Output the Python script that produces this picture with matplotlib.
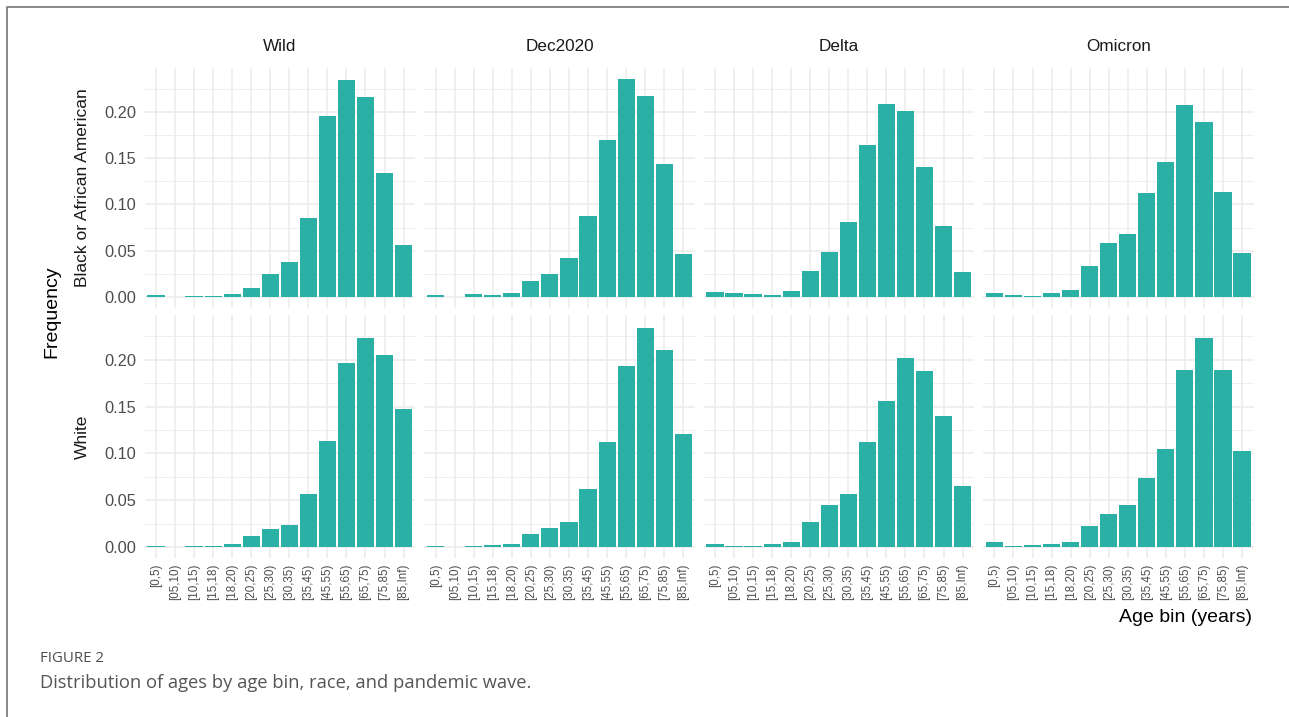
import matplotlib
matplotlib.use("Agg")
import matplotlib.pyplot as plt
from matplotlib.lines import Line2D
import numpy as np

# Age bins, facets and observed frequencies
age_bins = ["[0,5)", "[05,10)", "[10,15)", "[15,18)", "[18,20)", "[20,25)", "[25,30)",
            "[30,35)", "[35,45)", "[45,55)", "[55,65)", "[65,75)", "[75,85)", "[85,Inf)"]
waves = ["Wild", "Dec2020", "Delta", "Omicron"]
races = ["Black or African American", "White"]

black_wild = [0.002, 0.0, 0.001, 0.001, 0.003, 0.010, 0.025, 0.0375, 0.085, 0.195, 0.2346, 0.216, 0.134, 0.056]
black_dec2020 = [0.002, 0.0005, 0.003, 0.002, 0.004, 0.017, 0.025, 0.042, 0.0876, 0.170, 0.2357, 0.2166, 0.1434, 0.0465]
black_delta = [0.0054, 0.004, 0.0032, 0.0018, 0.006, 0.0278, 0.049, 0.0807, 0.164, 0.2086, 0.2004, 0.1409, 0.0764, 0.0267]
black_omicron = [0.004, 0.0022, 0.0015, 0.0047, 0.0079, 0.034, 0.0584, 0.0685, 0.112, 0.146, 0.2068, 0.1885, 0.113, 0.0476]
white_wild = [0.0015, 0.0005, 0.0008, 0.001, 0.003, 0.012, 0.019, 0.0235, 0.0567, 0.113, 0.197, 0.223, 0.205, 0.147]
white_dec2020 = [0.001, 0.0004, 0.0007, 0.0018, 0.0032, 0.0143, 0.0207, 0.0264, 0.0617, 0.112, 0.1936, 0.2335, 0.2107, 0.1212]
white_delta = [0.0029, 0.0007, 0.001, 0.0029, 0.005, 0.0267, 0.0446, 0.0563, 0.112, 0.1558, 0.2014, 0.1882, 0.1394, 0.0652]
white_omicron = [0.005, 0.0014, 0.0018, 0.0029, 0.005, 0.0225, 0.0356, 0.0453, 0.0741, 0.1048, 0.189, 0.2235, 0.189, 0.1023]

freq = {
    ("Black or African American", "Wild"): black_wild,
    ("Black or African American", "Dec2020"): black_dec2020,
    ("Black or African American", "Delta"): black_delta,
    ("Black or African American", "Omicron"): black_omicron,
    ("White", "Wild"): white_wild,
    ("White", "Dec2020"): white_dec2020,
    ("White", "Delta"): white_delta,
    ("White", "Omicron"): white_omicron,
}

W, H = 1289, 717
BAR = "#2AB0A5"
GRID = "#EBEBEB"
plt.rcParams["font.family"] = ["Liberation Sans", "DejaVu Sans"]

fig = plt.figure(figsize=(W / 100, H / 100), dpi=100)
fig.patch.set_facecolor("white")


def px_rect(left, top, right, bottom):
    return [left / W, 1 - bottom / H, (right - left) / W, (bottom - top) / H]


col_left = [144.5, 424.2, 703.5, 983.0]
col_width = 270.5
row_span = [(67.8, 307.9), (315.3, 558.0)]

ymax = max(max(v) for v in freq.values())
ylim = (-0.05 * ymax, 1.05 * ymax)
x = np.arange(len(age_bins))

for r, race in enumerate(races):
    for c, wave in enumerate(waves):
        top, bottom = row_span[r]
        ax = fig.add_axes(px_rect(col_left[c], top, col_left[c] + col_width, bottom))
        vals = np.array(freq[(race, wave)])
        ax.set_xlim(-0.6, len(age_bins) - 0.4)
        ax.set_ylim(*ylim)
        # grid: minor then major horizontals, verticals at each bin
        for yv in np.arange(0.025, 0.25, 0.05):
            ax.axhline(yv, color=GRID, lw=0.55, zorder=0)
        for yv in np.arange(0, 0.21, 0.05):
            ax.axhline(yv, color=GRID, lw=1.1, zorder=0)
        for xv in x:
            ax.axvline(xv, color=GRID, lw=1.1, zorder=0)
        mask = vals > 0
        ax.bar(x[mask], vals[mask], width=0.9, color=BAR, edgecolor="none", zorder=2)
        for s in ax.spines.values():
            s.set_visible(False)
        ax.tick_params(length=0)
        ax.set_yticks(np.arange(0, 0.21, 0.05))
        ax.set_xticks(x)
        if c == 0:
            ax.set_yticklabels([f"{v:.2f}" for v in np.arange(0, 0.21, 0.05)],
                               fontsize=11.8, color="#4D4D4D")
            ax.tick_params(axis="y", pad=6)
            ax.text(-0.228, 0.5, race, transform=ax.transAxes, rotation=90,
                    ha="center", va="center", fontsize=12.5, color="#1A1A1A")
        else:
            ax.set_yticklabels([])
        if r == 1:
            ax.set_xticklabels(age_bins, rotation=90, fontsize=8.4, color="#4D4D4D")
            ax.tick_params(axis="x", pad=4)
        else:
            ax.set_xticklabels([])
            ax.set_title(wave, fontsize=12.3, color="#1A1A1A", pad=12)

fig.text(52 / W, 1 - 312 / H, "Frequency", rotation=90, ha="center", va="center",
         fontsize=14, color="black")
fig.text(1252 / W, 1 - 617 / H, "Age bin (years)", ha="right", va="center",
         fontsize=14, color="black")

# outer frame (left and top edges)
fig.add_artist(Line2D([7 / W, 7 / W, 1.0], [0.0, 1 - 7 / H, 1 - 7 / H],
                      transform=fig.transFigure, color="#808080", lw=1.3))

fig.text(40 / W, 1 - 658 / H, "FIGURE 2", ha="left", va="center", fontsize=10.8,
         color="#4D4D4D", family=["Open Sans", "DejaVu Sans"])
fig.text(40 / W, 1 - 683 / H, "Distribution of ages by age bin, race, and pandemic wave.",
         ha="left", va="center", fontsize=13.2, color="#555555",
         family=["Open Sans", "DejaVu Sans"])

fig.savefig("out.png", dpi=100)
